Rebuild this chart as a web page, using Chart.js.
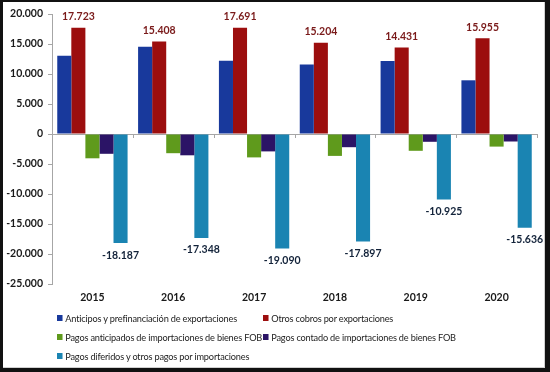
<!DOCTYPE html>
<html>
<head>
<meta charset="utf-8">
<script src="https://cdn.jsdelivr.net/npm/chart.js@4.4.0/dist/chart.umd.min.js"></script>
<style>
    html, body { margin: 0; padding: 0; }
    body { width: 550px; height: 372px; background: #111; position: relative; overflow: hidden; }
    .frame { position: absolute; left: 3px; top: 2px; width: 542px; height: 366px; background: #fff; border-right: 1px solid #d0d0d0; border-bottom: 1px solid #d0d0d0; box-sizing: border-box; }
    .chart-box { position: absolute; left: 0; top: 0; width: 550px; height: 310px; }
    #legend { position: absolute; left: 0; top: 0; width: 550px; height: 372px; pointer-events: none; }
    .legend-item { position: absolute; display: flex; align-items: center; font: 10px Lato, "Open Sans", sans-serif; color: #222; white-space: nowrap; letter-spacing: -0.2px; transform: scaleX(0.92); transform-origin: left center; }
    .legend-color { width: 6px; height: 6px; margin-right: 3px; }
</style>
</head>
<body>
<div class="frame"></div>
<div class="chart-box"><canvas id="flowsChart" width="550" height="310"></canvas></div>
<div id="legend"></div>
<script>
// Data
const years = ["2015", "2016", "2017", "2018", "2019", "2020"];
const anticipos = [13050, 14550, 12200, 11600, 12150, 8950];
const otrosCobros = [17723, 15408, 17691, 15204, 14431, 15955];
const pagosAnticipados = [-4050, -3200, -3900, -3650, -2800, -2100];
const pagosContado = [-3300, -3550, -2900, -2200, -1300, -1250];
const pagosDiferidos = [-18187, -17348, -19090, -17897, -10925, -15636];
const yTicks = [-25000, -20000, -15000, -10000, -5000, 0, 5000, 10000, 15000, 20000];

const seriesNames = [
    "Anticipos y prefinanciación de exportaciones",
    "Otros cobros por exportaciones",
    "Pagos anticipados de importaciones de bienes FOB",
    "Pagos contado de importaciones de bienes FOB",
    "Pagos diferidos y otros pagos por importaciones"
];

const colors = {
    blue: "#18399c",
    red: "#9c0e0e",
    green: "#5f9a1c",
    purple: "#2b1466",
    cyan: "#1a84b2"
};

// 17723 -> "17.723"
function fmt(v) {
    const s = Math.abs(Math.round(v)).toString().replace(/\B(?=(\d{3})+(?!\d))/g, ".");
    return (v < 0 ? "-" : "") + s;
}

// Value labels above red bars and below cyan bars
const valueLabels = {
    id: "valueLabels",
    afterDatasetsDraw(chart) {
        const ctx = chart.ctx;
        ctx.save();
        ctx.font = "bold 10.5px Lato, sans-serif";
        ctx.textAlign = "center";
        ctx.textBaseline = "middle";
        chart.getDatasetMeta(1).data.forEach((bar, i) => {
            ctx.fillStyle = "#7a1a1a";
            ctx.fillText(fmt(otrosCobros[i]), bar.x, bar.y - 11);
        });
        chart.getDatasetMeta(4).data.forEach((bar, i) => {
            ctx.fillStyle = "#13233a";
            ctx.fillText(fmt(pagosDiferidos[i]), bar.x, bar.y + 12);
        });
        ctx.restore();
    }
};

// Small tick marks on the zero line between categories
const zeroTicks = {
    id: "zeroTicks",
    afterDraw(chart) {
        const ctx = chart.ctx;
        const x = chart.scales.x;
        const y0 = chart.scales.y.getPixelForValue(0);
        const step = (x.right - x.left) / years.length;
        ctx.save();
        ctx.strokeStyle = "#a6a6a6";
        ctx.lineWidth = 1;
        for (let i = 1; i <= years.length; i++) {
            const px = Math.round(x.left + i * step) + 0.5;
            ctx.beginPath();
            ctx.moveTo(px, y0);
            ctx.lineTo(px, y0 + 4);
            ctx.stroke();
        }
        ctx.restore();
    }
};

const ctx = document.getElementById("flowsChart").getContext("2d");
const flowsChart = new Chart(ctx, {
    type: "bar",
    data: {
        labels: years,
        datasets: [
            { label: seriesNames[0], data: anticipos, backgroundColor: colors.blue },
            { label: seriesNames[1], data: otrosCobros, backgroundColor: colors.red },
            { label: seriesNames[2], data: pagosAnticipados, backgroundColor: colors.green },
            { label: seriesNames[3], data: pagosContado, backgroundColor: colors.purple },
            { label: seriesNames[4], data: pagosDiferidos, backgroundColor: colors.cyan }
        ]
    },
    options: {
        responsive: false,
        animation: false,
        layout: { padding: { left: 0, right: 13, top: 14, bottom: 0 } },
        datasets: {
            bar: { barPercentage: 1, categoryPercentage: 0.87 }
        },
        scales: {
            x: {
                grid: { display: false, drawTicks: false },
                border: { display: false },
                ticks: {
                    padding: 7,
                    color: "#1a1a1a",
                    font: { family: "Lato, sans-serif", size: 10.5, weight: "bold" }
                },
                afterFit: (s) => { s.height = 26; }
            },
            y: {
                min: -25000,
                max: 20000,
                afterBuildTicks: (s) => { s.ticks = yTicks.map(v => ({ value: v })); },
                grid: {
                    color: (c) => c.tick && c.tick.value === 0 ? "#a6a6a6" : "transparent",
                    tickColor: "#a6a6a6",
                    tickLength: 4
                },
                border: { color: "#a6a6a6" },
                ticks: {
                    padding: 5,
                    color: "#1a1a1a",
                    font: { family: "Lato, sans-serif", size: 10.5, weight: "bold" },
                    callback: (v) => fmt(v)
                },
                afterFit: (s) => { s.width = 52; }
            }
        },
        plugins: {
            legend: { display: false },
            tooltip: { enabled: false }
        }
    },
    plugins: [valueLabels, zeroTicks]
});

// HTML legend, two columns like the original
const legendPos = [
    { left: 57, top: 319 },
    { left: 263, top: 319 },
    { left: 57, top: 338 },
    { left: 263, top: 338 },
    { left: 57, top: 357 }
];
const legend = document.getElementById("legend");
flowsChart.data.datasets.forEach((ds, i) => {
    const item = document.createElement("div");
    item.className = "legend-item";
    item.style.left = legendPos[i].left + "px";
    item.style.top = (legendPos[i].top - 7) + "px";
    item.innerHTML = `<div class="legend-color" style="background-color: ${ds.backgroundColor}"></div><span>${ds.label}</span>`;
    legend.appendChild(item);
});
</script>
</body>
</html>
